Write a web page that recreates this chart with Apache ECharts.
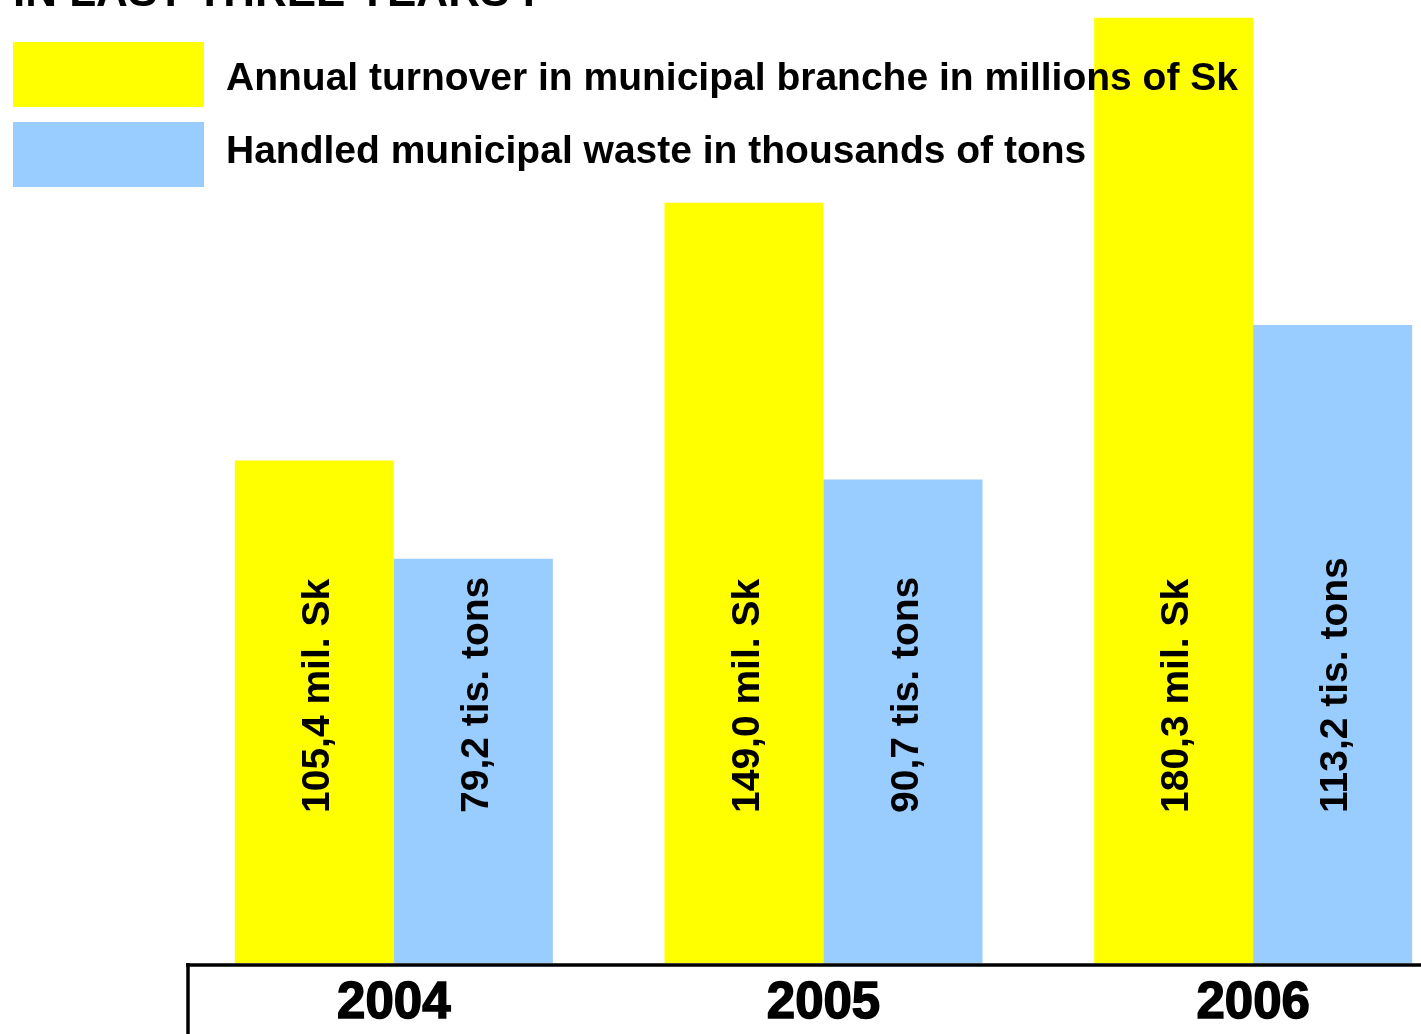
<!DOCTYPE html>
<html>
<head>
<meta charset="utf-8">
<script src="https://cdn.jsdelivr.net/npm/echarts@6/dist/echarts.min.js"></script>
<style>
html,body{margin:0;padding:0;background:#fff;overflow:hidden;width:1421px;height:1034px;}
#chart{width:1468px;height:1034px;}
</style>
</head>
<body>
<div id="chart"></div>
<script>
// ---- data ----
const years = ['2004', '2005', '2006'];
const turnoverName = 'Annual turnover in municipal branche in millions of Sk';
const wasteName = 'Handled municipal waste in thousands of tons';
const turnover = [105.4, 149.0, 180.3];   // mil. Sk
const waste = [79.2, 90.7, 113.2];        // tis. tons
const titleText = 'IN LAST THREE YEARS :';

const FONT = '"Liberation Sans", Arial, Helvetica, sans-serif';
const fmt = v => v.toFixed(1).replace('.', ',');

const chart = echarts.init(document.getElementById('chart'));
const barLabel = (suffix) => ({
  show: true,
  position: 'insideBottom',
  distance: 150,
  rotate: 90,
  align: 'left',
  verticalAlign: 'middle',
  offset: [0, 4],
  color: '#000',
  fontFamily: FONT,
  fontWeight: 'bold',
  fontSize: 39,
  formatter: p => fmt(p.value) + suffix
});
const legendText = { fontFamily: FONT, fontWeight: 'bold', fontSize: 39, color: '#000' };

chart.setOption({
  animation: false,
  backgroundColor: '#ffffff',
  title: {
    text: titleText,
    left: 13,
    top: -28,
    padding: 0,
    textStyle: { fontFamily: FONT, fontWeight: 'bold', fontSize: 44, color: '#000' }
  },
  legend: {
    orient: 'vertical',
    left: 13,
    top: 42,
    padding: 0,
    itemWidth: 191,
    itemHeight: 65,
    itemGap: 15,
    icon: 'rect',
    data: [turnoverName, wasteName],
    formatter: name => (name === turnoverName ? '{t|' : '{w|') + name + '}',
    textStyle: Object.assign({
      rich: {
        t: Object.assign({ padding: [10, 0, 0, 17] }, legendText),
        w: Object.assign({ padding: [0, 0, 5, 17] }, legendText)
      }
    }, legendText)
  },
  grid: { left: 179, right: 0, top: 10, bottom: 71, containLabel: false },
  xAxis: {
    type: 'category',
    data: years,
    axisLine: { show: false },
    axisTick: { show: false },
    axisLabel: {
      margin: 15,
      fontFamily: FONT,
      fontWeight: 'bold',
      fontSize: 51,
      color: '#000',
      textBorderColor: '#000',
      textBorderWidth: 1.5
    }
  },
  yAxis: [
    { type: 'value', min: 20.4, max: 181.6, show: false, splitLine: { show: false } },
    { type: 'value', min: 20.4, max: 159.0, show: false, splitLine: { show: false } }
  ],
  series: [
    {
      name: turnoverName,
      type: 'bar',
      yAxisIndex: 0,
      data: turnover,
      barWidth: 159,
      barGap: '0%',
      itemStyle: { color: '#FFFF00' },
      label: barLabel(' mil. Sk')
    },
    {
      name: wasteName,
      type: 'bar',
      yAxisIndex: 1,
      data: waste,
      barWidth: 159,
      barGap: '0%',
      itemStyle: { color: '#99CCFF' },
      label: barLabel(' tis. tons')
    }
  ],
  graphic: [
    { type: 'line', z: 100, shape: { x1: 186, y1: 965, x2: 1421, y2: 965 }, style: { stroke: '#000', lineWidth: 3.5 } },
    { type: 'line', z: 100, shape: { x1: 188, y1: 963, x2: 188, y2: 1034 }, style: { stroke: '#000', lineWidth: 3.5 } }
  ]
});
</script>
</body>
</html>
